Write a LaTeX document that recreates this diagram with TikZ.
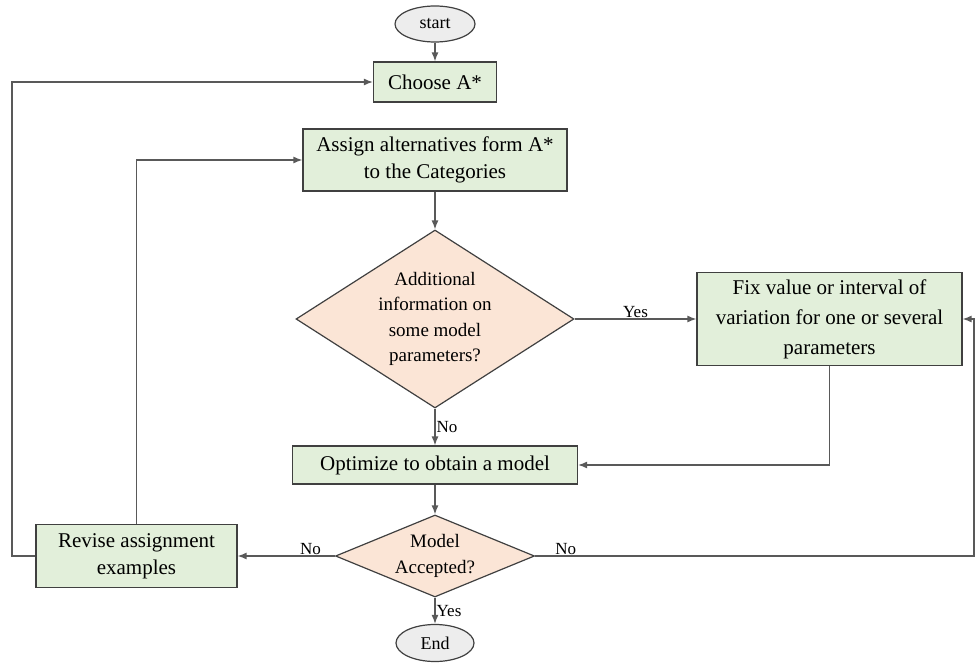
\documentclass[tikz,border=0pt]{standalone}
\usepackage{fontspec}
\setmainfont{Liberation Serif}
\usepackage{xcolor}
\usetikzlibrary{shapes.geometric,arrows.meta}

\definecolor{boxgreen}{HTML}{E2EFDA}
\definecolor{decpeach}{HTML}{FBE5D6}
\definecolor{termgray}{HTML}{EDEDED}
\definecolor{edgegray}{HTML}{404040}
\definecolor{linegray}{HTML}{595959}

\begin{document}
\begin{tikzpicture}[x=1pt,y=-1pt,>={Latex[length=9pt,width=7pt]},
	procbox/.style={draw=edgegray,line width=1.2pt,fill=boxgreen,rectangle,align=center,inner sep=0pt,font=\rmfamily\fontsize{21}{27}\selectfont},
	decide/.style={draw=edgegray,line width=1.2pt,fill=decpeach,diamond,align=center,inner sep=0pt,font=\rmfamily\fontsize{19}{25.5}\selectfont},
	term/.style={draw=edgegray,line width=1.2pt,fill=termgray,ellipse,inner sep=0pt,font=\rmfamily\fontsize{18}{22}\selectfont},
	flow/.style={->,draw=linegray,line width=1.3pt},
	lbl/.style={font=\rmfamily\fontsize{17}{20}\selectfont,inner sep=1pt}]
			\useasboundingbox (0,0) rectangle (975,663);
			% Các khối
			\node[term,minimum width=80pt,minimum height=36pt] (start) at (435,24) {start};
			\node[procbox,minimum width=123pt,minimum height=40pt] (choose) at (435,82) {Choose A*};
			\node[procbox,minimum width=264pt,minimum height=62pt] (assign) at (435,160) {Assign alternatives form A*\\to the Categories};
			\node[decide,minimum width=278pt,minimum height=178pt,aspect=1.56] (info) at (435,319) {Additional\\information on\\some model\\parameters?};
			\node[procbox,minimum width=265pt,minimum height=93pt,font=\rmfamily\fontsize{21}{30}\selectfont] (fix) at (829.5,319) {Fix value or interval of\\variation for one or several\\parameters};
			\node[procbox,minimum width=285pt,minimum height=38pt] (optim) at (435,465) {Optimize to obtain a model};
			\node[decide,minimum width=199pt,minimum height=82pt,aspect=2.43] (accept) at (435,556) {Model\\Accepted?};
			\node[term,minimum width=78pt,minimum height=37pt] (finish) at (435,643) {End};
			\node[procbox,minimum width=201pt,minimum height=63pt] (revise) at (136.5,556) {Revise assignment\\examples};
			% Các đường nối
			\draw[flow] (start) -- (choose);
			\draw[flow] (assign) -- (info);
			\draw[flow] (info.east) -- (fix.west) node[lbl,midway,above] {Yes};
			\draw[flow] (info.south) -- (optim.north) node[lbl,midway,right] {No};
			\draw[flow] (fix.south) |- (optim.east);
			\draw[flow] (optim) -- (accept);
			\draw[flow] (accept.south) -- (finish.north) node[lbl,midway,right] {Yes};
			\draw[flow] (accept.west) -- (revise.east) node[lbl,pos=0.25,above] {No};
			\draw[flow] (accept.east) -- (974,556) node[lbl,pos=0.07,above] {No} |- (fix.east);
			\draw[flow] (revise.north) |- (assign.west);
			\draw[flow] (revise.west) -- (12,556) |- (choose.west);
		\end{tikzpicture}
\end{document}
